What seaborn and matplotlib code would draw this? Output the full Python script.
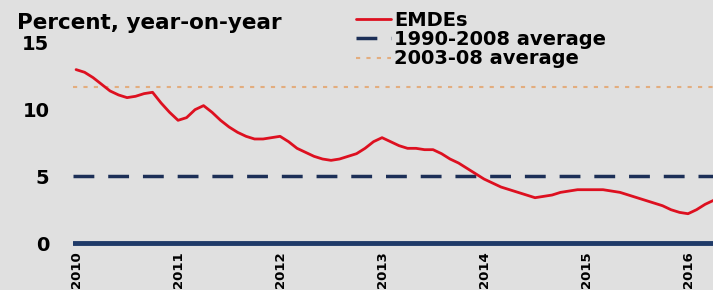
import numpy as np
import pandas as pd
import matplotlib
matplotlib.use("Agg")
import matplotlib.pyplot as plt
import seaborn as sns

# EMDE series, monthly Jan 2010 - Apr 2016 (percent, y/y)
emde = [13.0, 12.8, 12.4, 11.9, 11.4, 11.1, 10.9, 11.0, 11.2, 11.3, 10.5, 9.8,
        9.2, 9.4, 10.0, 10.3, 9.8, 9.2, 8.7, 8.3, 8.0, 7.8, 7.8, 7.9,
        8.0, 7.6, 7.1, 6.8, 6.5, 6.3, 6.2, 6.3, 6.5, 6.7, 7.1, 7.6,
        7.9, 7.6, 7.3, 7.1, 7.1, 7.0, 7.0, 6.7, 6.3, 6.0, 5.6, 5.2,
        4.8, 4.5, 4.2, 4.0, 3.8, 3.6, 3.4, 3.5, 3.6, 3.8, 3.9, 4.0,
        4.0, 4.0, 4.0, 3.9, 3.8, 3.6, 3.4, 3.2, 3.0, 2.8, 2.5, 2.3,
        2.2, 2.5, 2.9, 3.2]
avg_1990_2008 = 5.0
avg_2003_08 = 11.7
years = [2010, 2011, 2012, 2013, 2014, 2015, 2016]
year_labels = [str(y) for y in years]

df = pd.DataFrame({"t": 2010 + np.arange(len(emde)) / 12, "EMDEs": emde})

bg = "#e0e0e0"
sns.set_style("white")
plt.rcParams["font.family"] = ["DejaVu Sans"]
plt.rcParams["font.weight"] = "bold"
plt.rcParams["text.color"] = "black"
plt.rcParams["xtick.color"] = "black"
plt.rcParams["ytick.color"] = "black"

fig = plt.figure(figsize=(7.13, 2.90), dpi=100, facecolor=bg)
ax = fig.add_axes([0.1024, 0.148, 0.8976, 0.704], facecolor=bg)

ax.axhline(avg_2003_08, color="#e3ad7e", lw=1.5, ls=(0, (2, 3)), label="2003-08 average", zorder=1)
ax.axhline(avg_1990_2008, color="#1c2f57", lw=2.5, ls=(0, (6, 4)), label="1990-2008 average", zorder=1)
ax.axhline(0, color="#1f3a68", lw=3.5, zorder=2)
sns.lineplot(data=df, x="t", y="EMDEs", color="#dd1020", lw=2.0, ax=ax, label="EMDEs", zorder=3)

ax.set_xlim(2009.97, 2016.245)
ax.set_ylim(-0.3, 15)
ax.set_yticks([0, 5, 10, 15])
ax.set_yticklabels(["0", "5", "10", "15"])
ax.set_xticks(years)
ax.set_xticklabels(year_labels, rotation=90)
ax.tick_params(axis="both", length=0)
ax.tick_params(axis="y", pad=17, labelsize=14)
ax.tick_params(axis="x", pad=3, labelsize=9.5)
ax.set_xlabel("")
ax.set_ylabel("")
for s in ax.spines.values():
    s.set_visible(False)

fig.text(0.024, 0.955, "Percent, year-on-year", fontsize=15.5, fontweight="bold", va="top")

h, l = ax.get_legend_handles_labels()
order = [l.index("EMDEs"), l.index("1990-2008 average"), l.index("2003-08 average")]
ax.legend([h[i] for i in order], [l[i] for i in order], loc="upper left",
          bbox_to_anchor=(0.48, 1.01), bbox_transform=fig.transFigure,
          frameon=False, fontsize=14, handlelength=1.8, handletextpad=0.15,
          labelspacing=0.02, borderpad=0.2)

fig.savefig("out.png", dpi=100, facecolor=bg)
